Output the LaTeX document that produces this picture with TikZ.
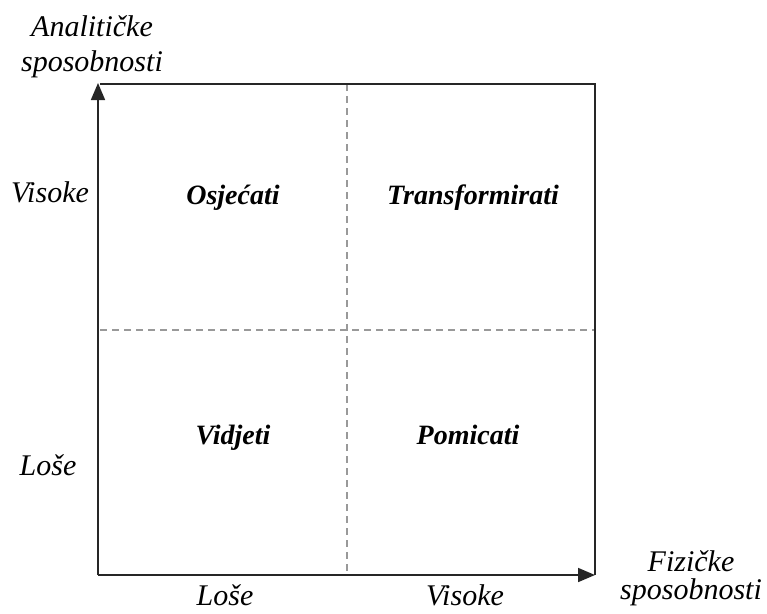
\documentclass[tikz,border=0pt]{standalone}
\usepackage{fontspec}
\setmainfont{Liberation Serif}
\usetikzlibrary{arrows.meta}
\tikzset{
  axislabel/.style={font=\fontsize{30}{40}\selectfont\itshape, inner sep=0pt, anchor=base},
  quadlabel/.style={font=\fontsize{28}{30}\selectfont\bfseries\itshape, inner sep=0pt, anchor=base},
  axisline/.style={line width=1.7pt, draw=black!85},
  gridline/.style={line width=1.4pt, draw=black!40, dash pattern=on 7pt off 5pt},
  tip/.style={-{Triangle[length=17pt,width=14pt]}}
}
\begin{document}
\begin{tikzpicture}[x=1pt,y=-1pt]
\useasboundingbox (0,0) rectangle (767,613);
% key points
\coordinate (O) at (98,575);
\coordinate (T) at (98,83);
\coordinate (R) at (595,575);
\coordinate (C) at (595,84);
\coordinate (TL) at (100,84);
\coordinate (vtop) at (347,84);
\coordinate (vbot) at (347,575);
\coordinate (hleft) at (100,330);
\coordinate (hright) at (595,330);
% grid
\draw[gridline] (vtop) -- (vbot);
\draw[gridline] (hleft) -- (hright);
% frame
\draw[axisline] (TL) -- (C) -- (R);
% axes
\draw[axisline, tip] (O) -- (T);
\draw[axisline, tip] (O) -- (R);
% axis labels
\node[axislabel] (ylab1) at (92,36) {Analitičke};
\node[axislabel] (ylab2) at (92,71) {sposobnosti};
\node[axislabel] (xlab1) at (691,571) {Fizičke};
\node[axislabel] (xlab2) at (691,599) {sposobnosti};
\node[axislabel] (yhigh) at (50,202) {Visoke};
\node[axislabel] (ylow) at (48,475) {Loše};
\node[axislabel] (xlow) at (225,605) {Loše};
\node[axislabel] (xhigh) at (465,605) {Visoke};
% quadrant labels
\node[quadlabel] (q1) at (233,204) {Osjećati};
\node[quadlabel] (q2) at (473,204) {Transformirati};
\node[quadlabel] (q3) at (233,444) {Vidjeti};
\node[quadlabel] (q4) at (468,444) {Pomicati};
\end{tikzpicture}
\end{document}
